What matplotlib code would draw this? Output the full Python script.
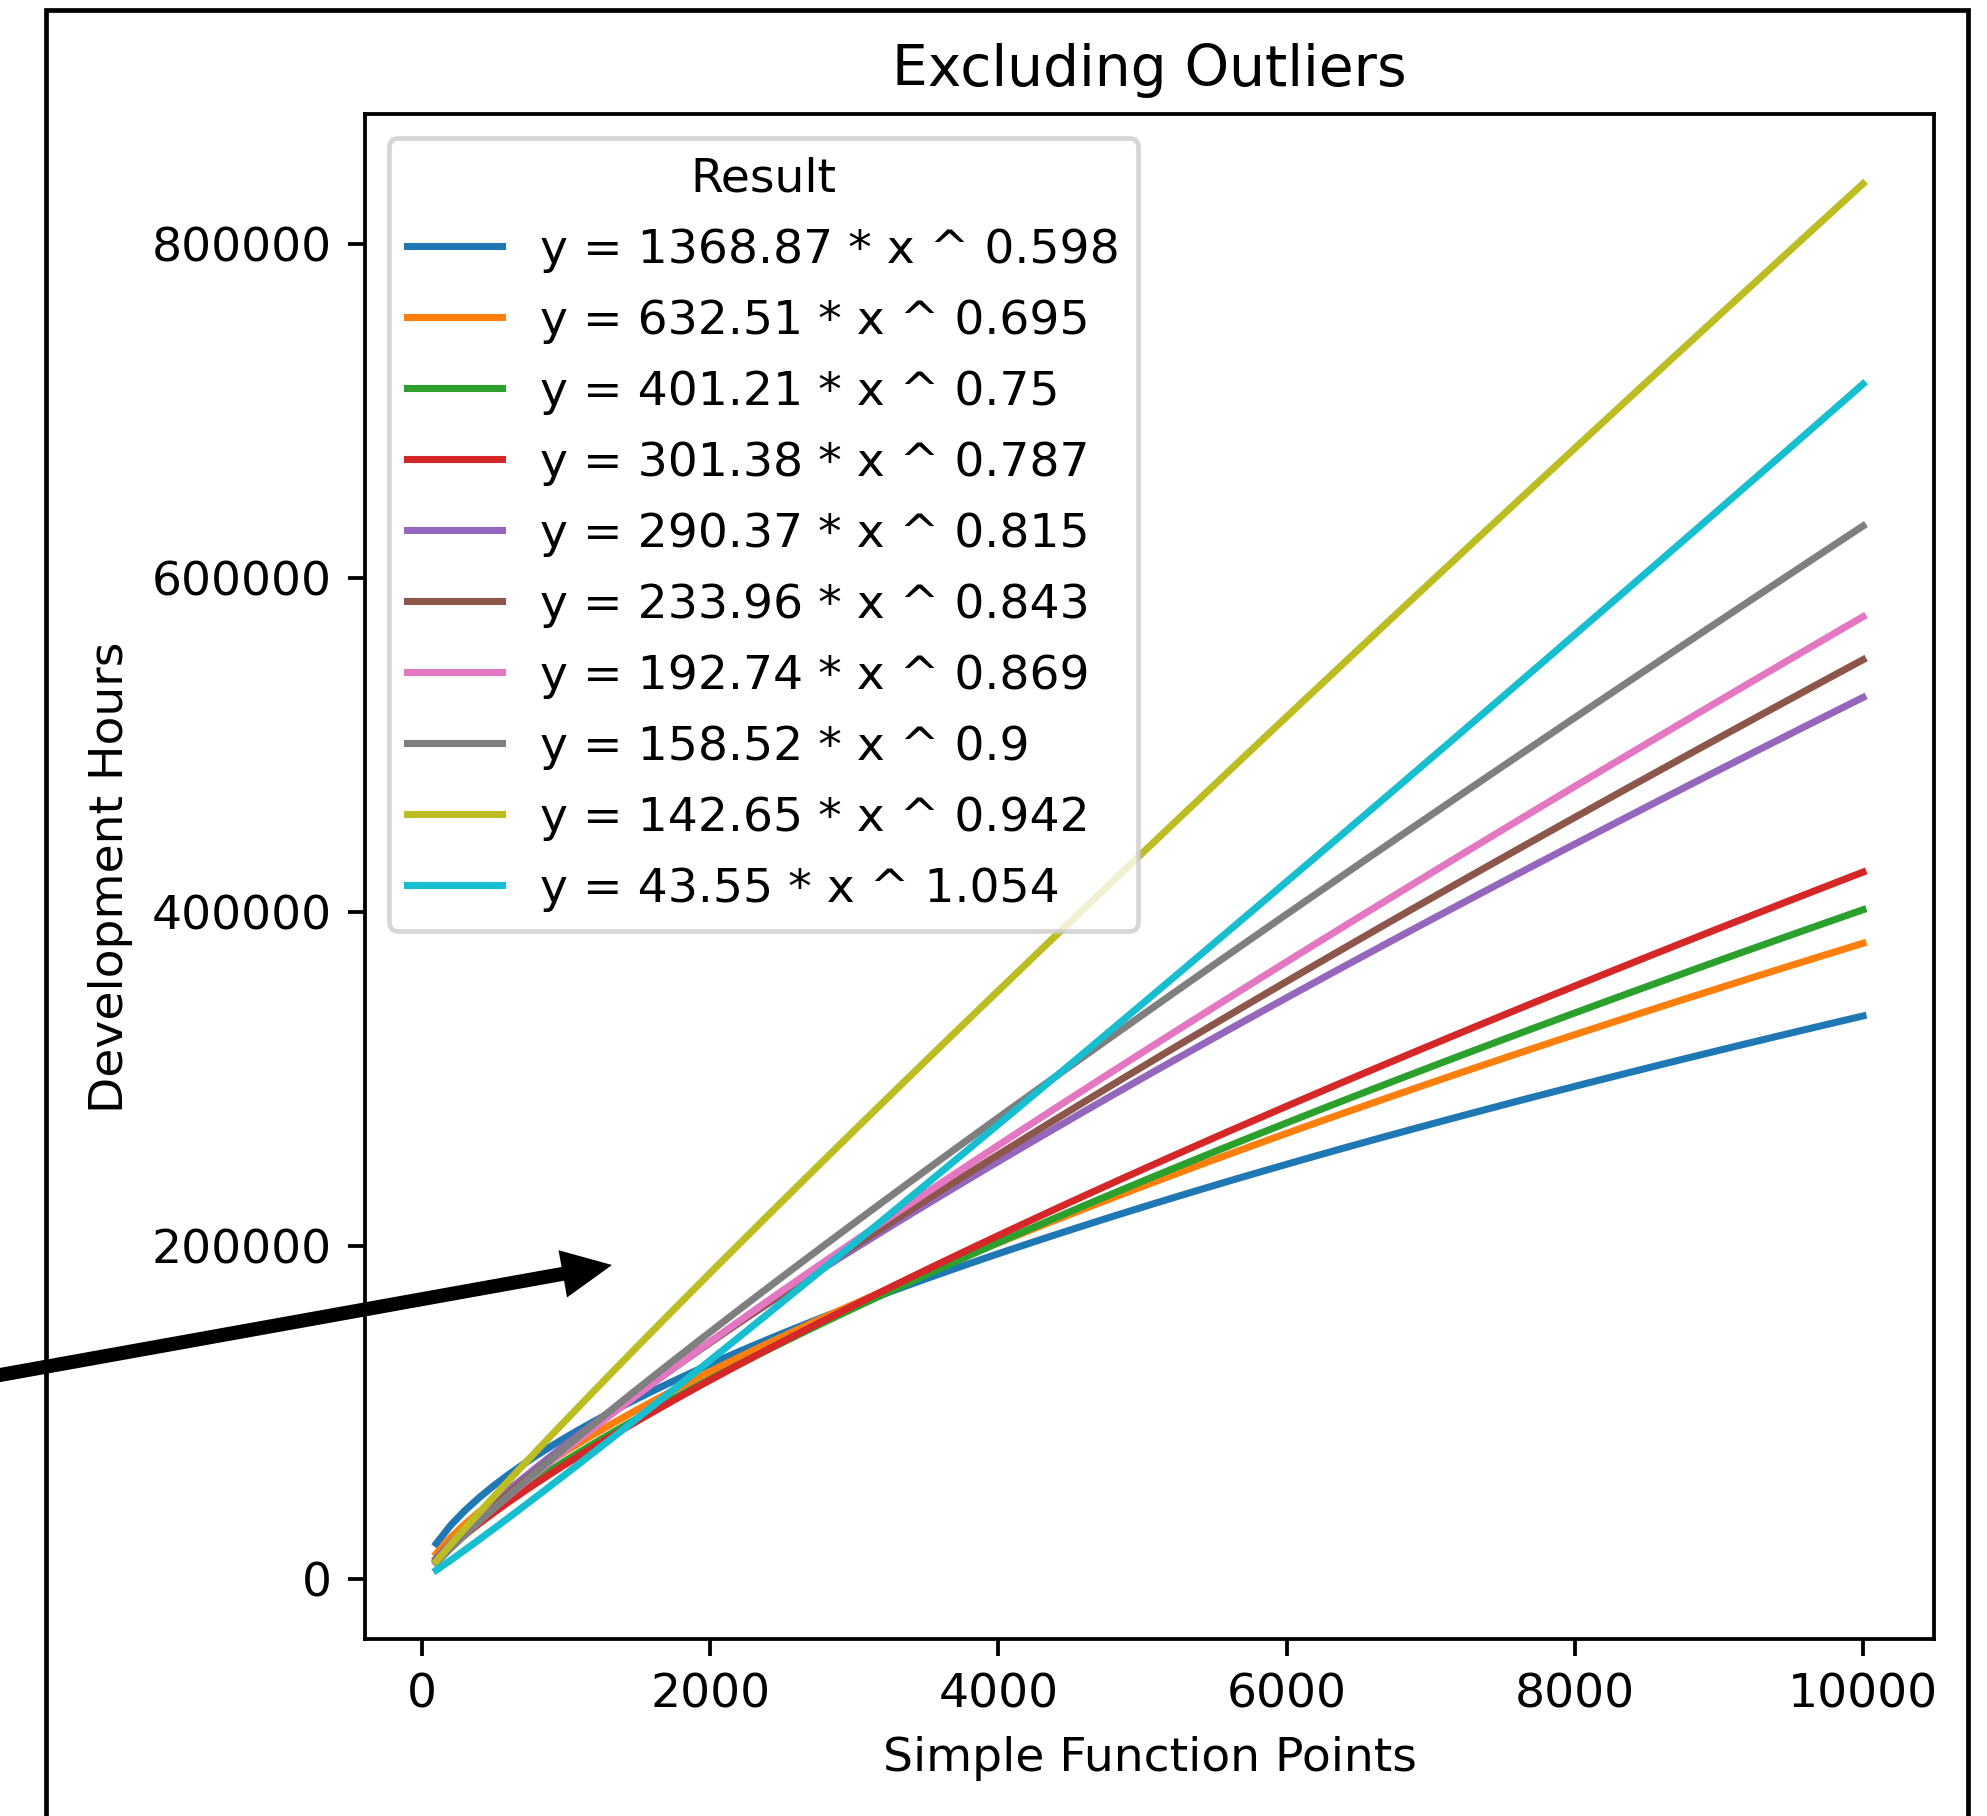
import numpy as np
import matplotlib
matplotlib.use("Agg")
import matplotlib.pyplot as plt
from matplotlib.patches import Rectangle, FancyArrow
from matplotlib.transforms import IdentityTransform

# Fitted power-law models: y = coef * x ^ expo
coefs = [1368.87, 632.51, 401.21, 301.38, 290.37, 233.96, 192.74, 158.52, 142.65, 43.55]
expos = [0.598, 0.695, 0.75, 0.787, 0.815, 0.843, 0.869, 0.9, 0.942, 1.054]
labels = [f"y = {c} * x ^ {e}" for c, e in zip(coefs, expos)]

x_start, x_stop, x_step = 100, 10000, 100

DPI = 340
W, H = 1988, 1816
fig = plt.figure(figsize=(W / DPI, H / DPI), dpi=DPI)
ax = fig.add_axes([0.1836, 0.0972, 0.973 - 0.1836, 0.937 - 0.0972])

x = np.arange(x_start, x_stop + 1, x_step)
for c, e, lab in zip(coefs, expos, labels):
    ax.plot(x, c * x ** e, label=lab)

ax.set_title("Excluding Outliers")
ax.set_xlabel("Simple Function Points")
ax.set_ylabel("Development Hours")
ax.set_xticks([0, 2000, 4000, 6000, 8000, 10000])
ax.set_yticks([0, 200000, 400000, 600000, 800000])
ax.legend(title="Result", loc="upper left", labelspacing=0.55)

# Highlight frame around the panel (runs off the bottom edge)
fig.add_artist(Rectangle((46 / W, -0.05), (1968 - 46) / W, 1 - 10 / H + 0.05,
                         transform=fig.transFigure, fill=False,
                         edgecolor="black", linewidth=1.0, clip_on=False))

# Pointer arrow coming in from the left edge
x0, y0 = -20, H - 1378.6
x1, y1 = 612, H - 1265
fig.add_artist(FancyArrow(x0, y0, x1 - x0, y1 - y0, width=14, head_width=48,
                          head_length=50, length_includes_head=True,
                          transform=IdentityTransform(), color="black",
                          linewidth=0, clip_on=False))

fig.savefig("out.png", dpi=DPI, facecolor="white")
